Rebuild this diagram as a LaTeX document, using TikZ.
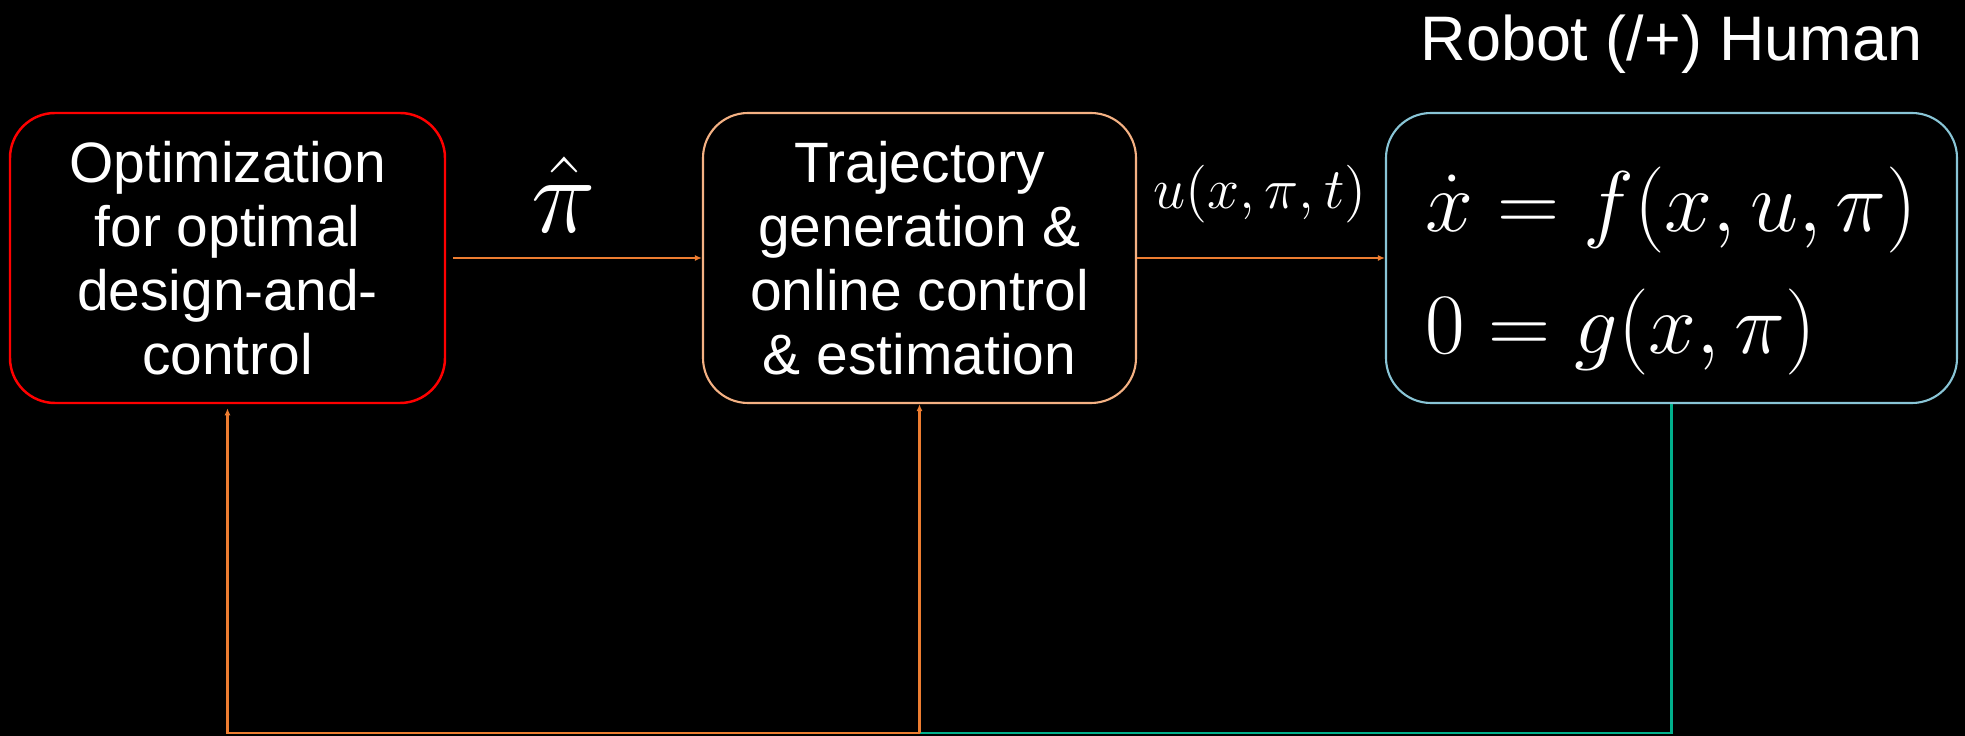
\RequirePackage{fix-cm}
\documentclass[tikz,border=0pt]{standalone}
\usepackage[no-math]{fontspec}
\newfontfamily\slidefont{Liberation Sans}
\usetikzlibrary{arrows.meta}

\definecolor{optred}{HTML}{FF0000}
\definecolor{trajpeach}{HTML}{F4B183}
\definecolor{robotcyan}{HTML}{89C5D6}
\definecolor{flow}{HTML}{ED7D31}
\definecolor{loopgreen}{HTML}{00B08C}

\begin{document}
\begin{tikzpicture}[
    box/.style={rectangle, rounded corners=0.45cm, line width=0.6pt,
                minimum height=2.9cm, align=center, text=white,
                font=\slidefont\fontsize{16.2}{18.2}\selectfont},
    line/.style={-{Latex[length=2pt,width=1.7pt]}, line width=0.6pt, draw=flow},
    back/.style={line width=0.6pt, draw=loopgreen},
    lbl/.style={text=white, inner sep=0pt, anchor=base},
  ]

  \fill[black] (0,0) rectangle (19.65,7.36);
  \useasboundingbox (0,0) rectangle (19.65,7.36);

  \node[box, draw=optred, line width=0.7pt, minimum width=4.35cm] (opt) at (2.275,4.78)
    {Optimization\\for optimal\\design-and-\\control};
  \node[box, draw=trajpeach, minimum width=4.33cm] (traj) at (9.195,4.78)
    {Trajectory\\generation \&\\online control\\\& estimation};
  \node[box, draw=robotcyan, minimum width=5.71cm, align=left,
        font=\fontsize{24.5}{34.7}\selectfont] (robot) at (16.715,4.78)
    {\rule{0pt}{25.6pt}$\dot{x} = f(x,u,\pi)$\\$0 = g(x,\pi)$};

  \node[lbl, font=\slidefont\fontsize{17.9}{20}\selectfont] (title) at (16.715,6.75) {Robot (/+) Human};

  % forward path
  \draw[line, shorten <=0.07cm] (opt.east) -- (traj.west);
  \node[lbl, font=\fontsize{31}{33}\selectfont] (pihat) at (5.64,5.03) {$\hat{\pi}$};
  \draw[line] (traj.east) -- (robot.west);
  \node[lbl, font=\fontsize{16.4}{18}\selectfont] (input) at (12.60,5.275) {$u(x,\pi,t)$};

  % feedback from the robot
  \coordinate (split) at (9.195,0.03);
  \draw[back] (robot.south) |- (split);
  \draw[line] (split) -- (traj.south);
  \draw[line, shorten >=0.04cm] (split) -| (opt.south);

\end{tikzpicture}
\end{document}
